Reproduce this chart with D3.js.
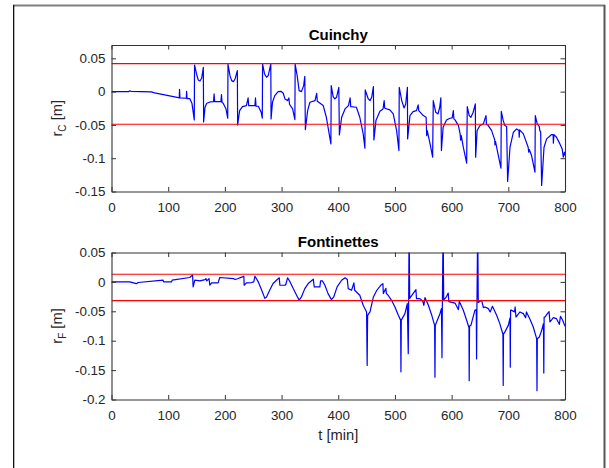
<!DOCTYPE html>
<html><head><meta charset="utf-8">
<script src="https://cdn.jsdelivr.net/npm/d3@7"></script>
<style>
body{margin:0;background:#fff}
svg{display:block}
text{font-family:"Liberation Sans",Arial,Helvetica,sans-serif}
</style>
</head><body>
<svg id="chart" width="609" height="468"></svg>
<script>
// ---------- data ----------
const tCuinchy = [0,30,32,35,70,76,118,119.5,120,120.8,132,132.5,133.3,138,142,146,146.5,150,153,156,159,162,162.5,165,168,174,180,181,182,193,194,195,197,202,205,205.5,209,212,215,218,222,222.5,226,231,238,241,242,253,254,255,259,264,266,266.5,270,273.5,276.5,281,281.5,284,288,294,299,303,306,310.5,313,314,319.5,323.5,324,327.5,331,335,339,341,342,346,350,359,362,363,373.5,379,384,387,387.6,391,394,397,401,402,406,412,418,421,422,432,438,444,447,447.6,453,456,459,462,462.9,466.5,473.5,479,481,482,491,494,497,503,507,507.6,512,516,519,522,522.4,526.5,532,538,541,542,550,555,556,557,562,566.5,567.6,572,576,579,581,582,585,591,597,601,603,604,606,612,615,616,617,620.6,626.5,627.6,631,634,638,641.8,642.4,645,650,656,660.6,661.5,664.7,670.6,676,676.5,677.5,680.6,687,687.6,691,694,697,698.8,703,709,714.7,718.8,719.2,720,726.5,735,736,737,741,747,747.6,751,754.7,755.5,757,758.8,763,767.6,776.5,779,779.5,780.5,785,791,795,797,799,800];
const rCuinchy = [0,0,0.001,0.0005,-0.0005,-0.002,-0.009,-0.0095,0.0035,-0.0095,-0.01,0.0005,-0.0105,-0.0105,-0.018,-0.0425,0.04,0.0265,0.0175,0.016,0.02,0.0365,-0.0455,-0.0235,-0.0175,-0.0155,-0.015,-0.0035,-0.015,-0.015,-0.0045,-0.0165,-0.0175,-0.026,-0.04,0.0415,0.024,0.0165,0.015,0.019,0.0315,-0.05,-0.0285,-0.0225,-0.021,-0.0095,-0.021,-0.021,-0.0095,-0.022,-0.022,-0.031,-0.04,0.0415,0.0265,0.0215,0.024,0.0415,-0.041,-0.016,-0.006,0,0.0005,-0.0025,-0.011,-0.0135,-0.0095,-0.019,-0.026,-0.042,0.0415,0.024,0.0015,0,0.009,0.023,-0.057,-0.0285,-0.016,-0.0135,-0.0025,-0.0145,-0.021,-0.0385,-0.0635,-0.0785,0.009,-0.0075,-0.011,-0.0085,0.0065,-0.065,-0.0385,-0.026,-0.021,-0.0095,-0.0225,-0.0235,-0.0385,-0.0635,-0.085,0.0025,-0.011,-0.0135,-0.0085,0.0075,-0.0725,-0.0435,-0.0295,-0.026,-0.0135,-0.025,-0.0275,-0.0305,-0.0335,-0.0585,-0.0885,0.0065,-0.0135,-0.0245,-0.0185,0.0065,-0.071,-0.036,-0.03,-0.0285,-0.02,-0.0285,-0.036,-0.0385,-0.066,-0.0585,-0.0785,-0.0985,-0.0135,-0.031,-0.0335,-0.0235,-0.0095,-0.0885,-0.0535,-0.0425,-0.04,-0.0395,-0.0285,-0.041,-0.0425,-0.051,-0.0635,-0.073,-0.066,-0.0835,-0.1075,-0.0225,-0.036,-0.0385,-0.031,-0.0185,-0.0985,-0.0585,-0.051,-0.0485,-0.036,-0.049,-0.051,-0.0585,-0.0725,-0.08,-0.075,-0.0885,-0.115,-0.0295,-0.0435,-0.051,-0.0525,-0.135,-0.0835,-0.061,-0.056,-0.0585,-0.0685,-0.0575,-0.0635,-0.0835,-0.091,-0.087,-0.096,-0.121,-0.036,-0.0485,-0.0525,-0.0585,-0.06,-0.141,-0.0835,-0.071,-0.0645,-0.0645,-0.0775,-0.0645,-0.0685,-0.0785,-0.086,-0.0985,-0.091,-0.096];

const tFontinettes = [0,32,44,47,91,92,106,107,138,142,143,144,147,156,165,166.5,168,172,173.5,176.5,188,191,215,218,223.5,231,233.5,234,238,247,251,253,259,265,270.5,273.5,279,285,291,296,297,302,306,307.6,310.6,315,320.6,326.5,331,335,341,347,356,357.6,367.6,368.8,372,376.5,382,388,392,398,406,412,416,417.6,423.5,427.6,429,438,444,450,451,451.8,456,462,468,475,478.8,479.5,484,485,488,494,500,506,510,510.6,511.2,517.6,521.8,523.5,524.2,525,526,532,537,538,544,549,551,553,559,565,570,570.6,571.2,573.5,579.4,582,583,583.6,585,586,591,594,595,606,612,613.5,620.6,626.5,630.6,631,631.6,634,641,643.5,644,644.6,646,647,653,656,659,664.7,668,672,679.4,685,690.5,691,691.5,694,700,703,703.5,704,705,711,712,713.5,720.6,726.5,730.6,732,739,744,750,750.6,751.2,754.7,758.8,762,762.6,763.2,765,767.6,771.8,773.5,779.4,785,790,792,795.9,800];
const rFontinettes = [0,0,-0.003,-0.001,0.003,0,0,0.003,0.0075,0.011,0.012,-0.0085,0.003,0.0017,0.004,0.0057,0.0017,0.0057,-0.0057,-0.0017,-0.0017,0.0075,0.0057,0.004,0.0057,0.0085,0.0097,-0.0057,-0.0017,-0.0011,0,0.0097,0,-0.0142,-0.028,-0.0256,-0.0142,-0.0028,0.0028,0.007,-0.0057,-0.0057,-0.0057,-0.004,0.007,0,-0.0114,-0.0227,-0.031,-0.0256,-0.0114,-0.0028,0.0046,-0.0085,-0.0085,0.0017,0.0017,-0.0057,-0.0199,-0.0301,-0.0256,-0.0085,0.0028,0.007,0.004,-0.0114,-0.0142,-0.0017,-0.0142,-0.0227,-0.0398,-0.0511,-0.142,-0.057,-0.0511,-0.0256,-0.0142,-0.0057,-0.003,-0.0199,-0.011,-0.02,-0.0227,-0.0313,-0.0426,-0.0568,-0.065,-0.153,-0.065,-0.054,-0.037,-0.122,-0.037,0.1,-0.028,-0.0199,-0.013,-0.0284,-0.0284,-0.0324,-0.0398,-0.0267,-0.0398,-0.0568,-0.0739,-0.162,-0.0739,-0.0682,-0.054,-0.0455,-0.129,-0.0455,0.1,-0.031,-0.025,-0.019,-0.0336,-0.036,-0.0472,-0.033,-0.0483,-0.0653,-0.078,-0.168,-0.075,-0.0739,-0.0483,-0.0472,-0.131,-0.047,0.1,-0.035,-0.0313,-0.0438,-0.0426,-0.0455,-0.0511,-0.0415,-0.0568,-0.071,-0.089,-0.176,-0.089,-0.085,-0.0739,-0.061,-0.145,-0.048,-0.048,-0.051,-0.0426,-0.0597,-0.0511,-0.054,-0.061,-0.0511,-0.0653,-0.0767,-0.0966,-0.185,-0.0966,-0.0937,-0.0824,-0.071,-0.155,-0.06,-0.0597,-0.0557,-0.0505,-0.0682,-0.0608,-0.0625,-0.0722,-0.0585,-0.0653,-0.0756];

const limitsCuinchy = [0.042, -0.049];
const limitsFontinettes = [0.013, -0.032];

const xTicks = [0,100,200,300,400,500,600,700,800];
const xTickLabels = ["0","100","200","300","400","500","600","700","800"];
const yTicksCuinchy = [-0.15,-0.1,-0.05,0,0.05];
const yTickLabelsCuinchy = ["-0.15","-0.1","-0.05","0","0.05"];
const yTicksFontinettes = [-0.2,-0.15,-0.1,-0.05,0,0.05];
const yTickLabelsFontinettes = ["-0.2","-0.15","-0.1","-0.05","0","0.05"];

const titles = ["Cuinchy","Fontinettes"];
const yLabelSubs = ["C","F"];
const xLabel = "t [min]";

// ---------- drawing ----------
const svg = d3.select("#chart");
const axColor = "#262626";

// figure frame
svg.append("rect").attr("x",13).attr("y",4.5).attr("width",592).attr("height",2).attr("fill","#7f7f7f");
svg.append("rect").attr("x",13).attr("y",5).attr("width",1.3).attr("height",470).attr("fill","#111");
svg.append("rect").attr("x",603.5).attr("y",5).attr("width",2).attr("height",470).attr("fill","#555");

const L = 111.5, R = 565;
const panels = [
  {t:tCuinchy, r:rCuinchy, lim:limitsCuinchy, yT:yTicksCuinchy, yL:yTickLabelsCuinchy,
   dom:[-0.15,0.07], top:45, bot:191.5, title:titles[0], sub:yLabelSubs[0], titleY:40, showX:false},
  {t:tFontinettes, r:rFontinettes, lim:limitsFontinettes, yT:yTicksFontinettes, yL:yTickLabelsFontinettes,
   dom:[-0.2,0.05], top:252.5, bot:399.5, title:titles[1], sub:yLabelSubs[1], titleY:247, showX:true}
];

panels.forEach((p,i)=>{
  const x = d3.scaleLinear().domain([0,800]).range([L,R]);
  const y = d3.scaleLinear().domain(p.dom).range([p.bot,p.top]);
  const g = svg.append("g");
  const cid = "clip"+i;
  svg.append("defs").append("clipPath").attr("id",cid)
    .append("rect").attr("x",L).attr("y",p.top).attr("width",R-L).attr("height",p.bot-p.top);

  const styleAxis = (sel)=>{
    sel.selectAll(".domain").attr("stroke","#333").attr("stroke-width",1.1);
    sel.selectAll(".tick line").attr("stroke","#333").attr("stroke-width",1);
    sel.selectAll("text").attr("fill",axColor).style("font-size","13.4px").style("font-family","'Liberation Sans',Arial,sans-serif");
  };

  const plot = g.append("g").attr("clip-path",`url(#${cid})`);
  const pts = p.t.map((tv,j)=>[tv,p.r[j]]);
  plot.append("path").datum(pts)
    .attr("fill","none").attr("stroke","#0000ff").attr("stroke-width",1.2).attr("stroke-linejoin","round")
    .attr("d", d3.line().x(d=>x(d[0])).y(d=>y(d[1])));
  p.lim.forEach(v=>{
    plot.append("line").attr("x1",x(0)).attr("x2",x(800)).attr("y1",y(v)).attr("y2",y(v))
      .attr("stroke","#ff0000").attr("stroke-width",1.2);
  });

  const ax1 = g.append("g").attr("transform",`translate(0,${p.bot})`)
    .call(d3.axisBottom(x).tickValues(xTicks).tickFormat((d,j)=>xTickLabels[j]).tickSizeInner(-4.5).tickSizeOuter(0).tickPadding(11));
  styleAxis(ax1);
  const ax2 = g.append("g").attr("transform",`translate(0,${p.top})`)
    .call(d3.axisTop(x).tickValues(xTicks).tickFormat("").tickSizeInner(-4.5).tickSizeOuter(0));
  styleAxis(ax2);
  const ax3 = g.append("g").attr("transform",`translate(${L},0)`)
    .call(d3.axisLeft(y).tickValues(p.yT).tickFormat((d,j)=>p.yL[j]).tickSizeInner(-4.5).tickSizeOuter(0).tickPadding(6));
  styleAxis(ax3);
  const ax4 = g.append("g").attr("transform",`translate(${R},0)`)
    .call(d3.axisRight(y).tickValues(p.yT).tickFormat("").tickSizeInner(-4.5).tickSizeOuter(0));
  styleAxis(ax4);

  g.append("text").attr("x",(L+R)/2).attr("y",p.titleY).attr("text-anchor","middle")
    .style("font-size","15px").style("font-weight","bold").attr("fill","#000").text(p.title);

  const cy = (p.top+p.bot)/2;
  const yl = g.append("text").attr("transform",`translate(62,${cy}) rotate(-90)`)
    .attr("text-anchor","middle").attr("fill",axColor).style("font-size","14.7px");
  yl.append("tspan").text("r");
  yl.append("tspan").attr("dy",4).style("font-size","10px").text(p.sub);
  yl.append("tspan").attr("dy",-4).text(" [m]");

  if(p.showX){
    g.append("text").attr("x",(L+R)/2).attr("y",440).attr("text-anchor","middle")
      .attr("fill",axColor).style("font-size","14.7px").text(xLabel);
  }
});
</script>
</body></html>
